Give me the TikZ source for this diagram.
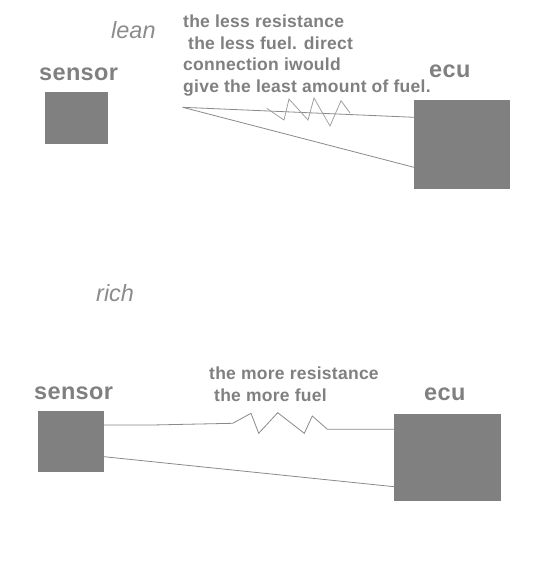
\documentclass[tikz,border=0pt]{standalone}
\usepackage{fontspec}
\setmainfont{Liberation Sans}
\newfontfamily\boldsp[LetterSpace=1.5]{Liberation Sans Bold}
\begin{document}
\begin{tikzpicture}[x=1pt,y=-1pt,
  block/.style={draw=none,fill=boxgray,inner sep=0pt,outer sep=0pt,minimum width=#1},
  wire/.style={draw=wiregray,line width=0.8pt,line join=miter},
  zig/.style={draw=ziggray,line width=0.8pt,line join=miter},
  title/.style={font=\boldsp\fontsize{23.5}{26}\selectfont,text=txtgray,inner sep=0pt,anchor=base west},
  note/.style={font=\boldsp\fontsize{17.5}{21.5}\selectfont,text=txtgray,inner sep=0pt,anchor=north west,align=left},
  mood/.style={font=\itshape\fontsize{23.5}{26}\selectfont,text=moodgray,inner sep=0pt,anchor=base west}]
\definecolor{boxgray}{HTML}{808080}
\definecolor{txtgray}{HTML}{808080}
\definecolor{moodgray}{HTML}{8C8C8C}
\definecolor{wiregray}{HTML}{8A8A8A}
\definecolor{ziggray}{HTML}{A0A0A0}
\useasboundingbox (0,0) rectangle (552,576);
\fill[white] (0,0) rectangle (552,576);
% boxes
\node[block=63pt,minimum height=52pt,anchor=north west] (s1) at (45,92) {};
\node[block=96pt,minimum height=89pt,anchor=north west] (e1) at (414,100) {};
\node[block=66pt,minimum height=61pt,anchor=north west] (s2) at (38,411) {};
\node[block=107pt,minimum height=87pt,anchor=north west] (e2) at (394,414) {};
% labels
\node[mood] (lean) at (111,38) {lean};
\node[mood] (rich) at (96,301) {rich};
\node[title] (ls1) at (39,80) {sensor};
\node[title] (le1) at (429,77) {ecu};
\node[title] (ls2) at (34,399) {sensor};
\node[title] (le2) at (424,400) {ecu};
\node[note] (n1) at (183,15) {the less resistance\\\hspace*{5pt}the less fuel. direct\\connection iwould\\give the least amount of fuel.};
\node[note] (n2) at (209,367) {the more resistance\\\hspace*{5pt}the more fuel};
% top wiring
\coordinate (t0) at (182.7,107.3);
\coordinate (t1) at (414,117.3);
\coordinate (t2) at (414,167.3);
\draw[wire] (t0) -- (t1);
\draw[wire] (t0) -- (t2);
\draw[zig] (266.7,108.3) -- (284,120) -- (289,99) -- (308,120) -- (314,98) -- (330,126) -- (341,100.7) -- (350,113);
% bottom wiring
\coordinate (b0) at (104,425);
\coordinate (b1) at (394,429.3);
\coordinate (b2) at (104,456.7);
\coordinate (b3) at (394,486.7);
\draw[wire] (b0) -- (151.7,425) -- (232.7,423.3) -- (251,413.3) -- (258.7,433.3) -- (277.7,412.7) -- (304.3,433.3) -- (312.3,416) -- (327.3,429.3) -- (b1);
\draw[wire] (b2) -- (b3);
\end{tikzpicture}
\end{document}
